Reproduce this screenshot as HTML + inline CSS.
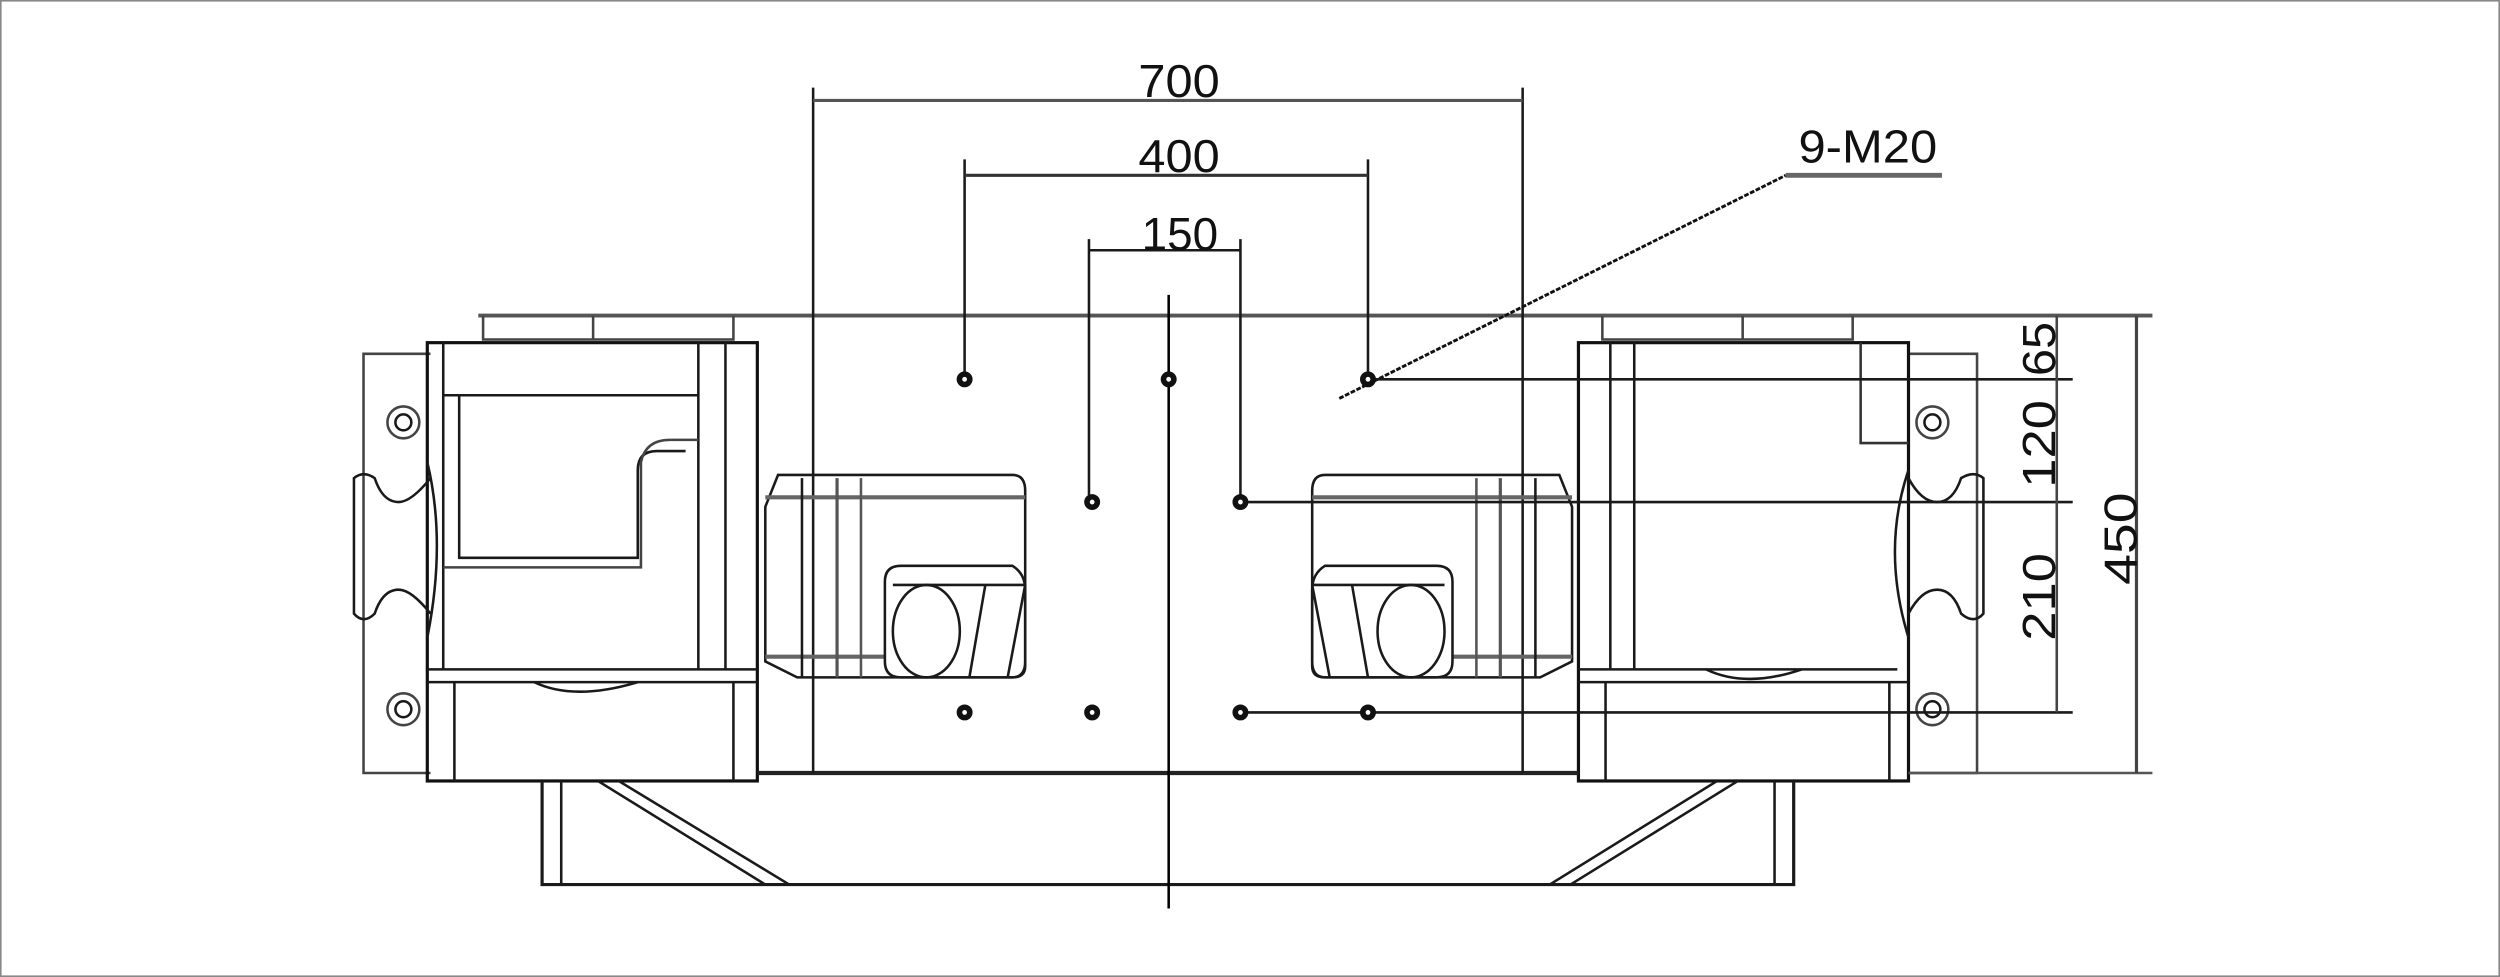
<!DOCTYPE html>
<html><head><meta charset="utf-8"><style>
html,body{margin:0;padding:0;background:#fff;}
svg{display:block}
text{font-family:"Liberation Sans",Arial,sans-serif;fill:#111}
</style></head><body>
<svg width="2500" height="977" viewBox="0 0 1568 613" preserveAspectRatio="none" xmlns="http://www.w3.org/2000/svg">
<rect x="0.5" y="0.5" width="1567" height="612" fill="#fff" stroke="#888" stroke-width="1"/>
<g fill="none" stroke="#1a1a1a" stroke-width="1.6">
<line x1="300" y1="198" x2="1350" y2="198" stroke="#555" stroke-width="2.4"/>
<path d="M303 198 V213 H460 V198 M372 198 V213" stroke="#444"/>
<path d="M1005 198 V213 H1162 V198 M1093 198 V213" stroke="#444"/>
<path d="M270 222 H228 V485 H270" stroke="#444"/>
<path d="M1197 222 H1240 V485 H1197" stroke="#444"/>
<rect x="268" y="215" width="207" height="275" stroke="#111" stroke-width="2"/>
<line x1="278" y1="215" x2="278" y2="420"/>
<line x1="278" y1="248" x2="438" y2="248"/>
<line x1="438" y1="215" x2="438" y2="420"/>
<line x1="455" y1="215" x2="455" y2="420"/>
<path d="M288 248 V350 H400 V295 Q400 283 412 283 H430"/>
<path d="M278 356 H402 V290 Q405 276 420 276 H438" stroke="#444"/>
<line x1="268" y1="420" x2="475" y2="420"/>
<line x1="268" y1="428" x2="475" y2="428"/>
<path d="M335 428 Q360 440 400 428"/>
<line x1="285" y1="428" x2="285" y2="490"/>
<line x1="460" y1="428" x2="460" y2="490"/>
<path d="M270 300 Q258 315 250 315 Q240 315 235 300 Q228 295 222 300 V385 Q228 392 235 385 Q240 370 250 370 Q258 370 270 385"/>
<path d="M268 290 Q280 340 268 400"/>
<circle cx="253" cy="265" r="10" stroke="#444"/><circle cx="253" cy="265" r="5"/>
<circle cx="253" cy="445" r="10" stroke="#444"/><circle cx="253" cy="445" r="5"/>
<rect x="990" y="215" width="207" height="275" stroke="#111" stroke-width="2"/>
<line x1="1010" y1="215" x2="1010" y2="420"/>
<line x1="1025" y1="215" x2="1025" y2="420"/>
<path d="M1167 215 V278 H1197" stroke="#333"/>
<line x1="990" y1="428" x2="1197" y2="428"/>
<line x1="990" y1="420" x2="1190" y2="420"/>
<path d="M1070 420 Q1095 432 1130 420"/>
<line x1="1007" y1="428" x2="1007" y2="490"/>
<line x1="1185" y1="428" x2="1185" y2="490"/>
<path d="M1197 300 Q1205 315 1215 315 Q1225 315 1230 300 Q1238 295 1244 300 V385 Q1238 392 1230 385 Q1225 370 1215 370 Q1205 370 1197 385"/>
<path d="M1197 295 Q1180 345 1197 400"/>
<circle cx="1212" cy="265" r="10" stroke="#444"/><circle cx="1212" cy="265" r="5"/>
<circle cx="1212" cy="445" r="10" stroke="#444"/><circle cx="1212" cy="445" r="5"/>
<line x1="475" y1="485" x2="990" y2="485" stroke="#222" stroke-width="2.6"/>
<line x1="510" y1="55" x2="510" y2="485"/>
<line x1="955" y1="55" x2="955" y2="485"/>
<path d="M340 490 V555 H1125 V490" stroke-width="2"/>
<line x1="352" y1="490" x2="352" y2="555"/>
<line x1="1113" y1="490" x2="1113" y2="555"/>
<path d="M375 490 L480 555 M388 490 L495 555"/>
<path d="M1090 490 L985 555 M1077 490 L972 555"/>
<path d="M488 298 H635 Q643 298 643 308 V415 Q643 425 635 425 H500 L480 415 V318 Z"/>
<line x1="480" y1="312" x2="643" y2="312" stroke="#666" stroke-width="2.6"/>
<line x1="480" y1="412" x2="555" y2="412" stroke="#666" stroke-width="2.6"/>
<line x1="503" y1="300" x2="503" y2="425"/>
<line x1="525" y1="300" x2="525" y2="425" stroke="#555" stroke-width="2"/>
<line x1="540" y1="300" x2="540" y2="425" stroke="#555"/>
<path d="M565 355 H635 Q643 360 643 370 V418 Q643 425 635 425 H565 Q555 425 555 415 V365 Q555 355 565 355 Z"/>
<line x1="560" y1="367" x2="643" y2="367"/>
<ellipse cx="581" cy="396" rx="21" ry="29"/>
<path d="M618 367 L608 425 M643 367 L632 425"/>
<path d="M978 298 H831 Q823 298 823 308 V415 Q823 425 831 425 H966 L986 415 V318 Z"/>
<line x1="823" y1="312" x2="986" y2="312" stroke="#666" stroke-width="2.6"/>
<line x1="911" y1="412" x2="986" y2="412" stroke="#666" stroke-width="2.6"/>
<line x1="963" y1="300" x2="963" y2="425"/>
<line x1="941" y1="300" x2="941" y2="425" stroke="#555" stroke-width="2"/>
<line x1="926" y1="300" x2="926" y2="425" stroke="#555"/>
<path d="M901 355 H831 Q823 360 823 370 V418 Q823 425 831 425 H901 Q911 425 911 415 V365 Q911 355 901 355 Z"/>
<line x1="823" y1="367" x2="906" y2="367"/>
<ellipse cx="885" cy="396" rx="21" ry="29"/>
<path d="M848 367 L858 425 M823 367 L834 425"/>
<line x1="733" y1="185" x2="733" y2="570" stroke="#000"/>
<line x1="510" y1="63" x2="955" y2="63" stroke="#555" stroke-width="2"/>
<line x1="605" y1="100" x2="605" y2="238"/>
<line x1="858" y1="100" x2="858" y2="238"/>
<line x1="605" y1="110" x2="858" y2="110" stroke="#333" stroke-width="2"/>
<line x1="683" y1="150" x2="683" y2="315"/>
<line x1="778" y1="150" x2="778" y2="315"/>
<line x1="683" y1="157" x2="778" y2="157"/>
<line x1="840" y1="250" x2="1120" y2="110" stroke="#111" stroke-width="1.8" stroke-dasharray="3,1"/>
<line x1="1120" y1="110" x2="1218" y2="110" stroke="#666" stroke-width="3"/>
<line x1="858" y1="238" x2="1300" y2="238"/>
<line x1="778" y1="315" x2="1300" y2="315"/>
<line x1="778" y1="447" x2="1300" y2="447"/>
<line x1="1197" y1="485" x2="1350" y2="485" stroke="#555"/>
<line x1="1290" y1="198" x2="1290" y2="447" stroke="#444" stroke-width="1.6"/>
<line x1="1340" y1="198" x2="1340" y2="485" stroke="#444" stroke-width="2"/>
</g>
<g fill="#111">
<circle cx="605" cy="238" r="5"/><circle cx="733" cy="238" r="5"/><circle cx="858" cy="238" r="5"/>
<circle cx="685" cy="315" r="5"/><circle cx="778" cy="315" r="5"/>
<circle cx="605" cy="447" r="5"/><circle cx="685" cy="447" r="5"/><circle cx="778" cy="447" r="5"/><circle cx="858" cy="447" r="5"/>
</g>
<g fill="#fff">
<circle cx="605" cy="238" r="1.5"/><circle cx="733" cy="238" r="1.5"/><circle cx="858" cy="238" r="1.5"/>
<circle cx="685" cy="315" r="1.5"/><circle cx="778" cy="315" r="1.5"/>
<circle cx="605" cy="447" r="1.5"/><circle cx="685" cy="447" r="1.5"/><circle cx="778" cy="447" r="1.5"/><circle cx="858" cy="447" r="1.5"/>
</g>
<g font-size="29">
<text x="714" y="61" textLength="51" lengthAdjust="spacingAndGlyphs">700</text>
<text x="714" y="108" textLength="51" lengthAdjust="spacingAndGlyphs">400</text>
<text x="716" y="157" textLength="48" lengthAdjust="spacingAndGlyphs">150</text>
<text x="1128" y="102" textLength="87" lengthAdjust="spacingAndGlyphs">9-M20</text>
<text transform="translate(1289,236) rotate(-90)" textLength="34" lengthAdjust="spacingAndGlyphs">65</text>
<text transform="translate(1289,306) rotate(-90)" textLength="55" lengthAdjust="spacingAndGlyphs">120</text>
<text transform="translate(1289,402) rotate(-90)" textLength="55" lengthAdjust="spacingAndGlyphs">210</text>
<text transform="translate(1340,367) rotate(-90)" textLength="58" lengthAdjust="spacingAndGlyphs">450</text>
</g>
</svg>
</body></html>
